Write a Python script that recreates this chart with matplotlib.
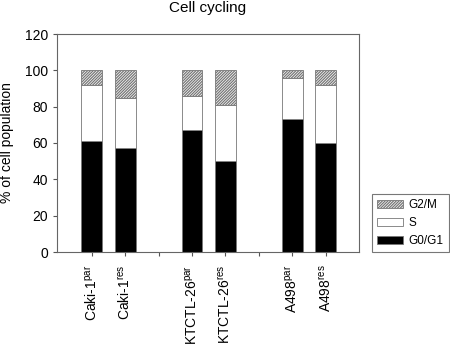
import matplotlib
matplotlib.use("Agg")
import matplotlib.pyplot as plt
import numpy as np

plt.rcParams['font.family'] = ['Liberation Sans', 'DejaVu Sans']
plt.rcParams['mathtext.fontset'] = 'custom'
plt.rcParams['mathtext.rm'] = 'Liberation Sans'
plt.rcParams['mathtext.it'] = 'Liberation Sans'
plt.rcParams['hatch.color'] = '#222222'
plt.rcParams['hatch.linewidth'] = 0.9

labels = ['Caki-1$^{\\mathrm{par}}$', 'Caki-1$^{\\mathrm{res}}$', '',
          'KTCTL-26$^{\\mathrm{par}}$', 'KTCTL-26$^{\\mathrm{res}}$', '',
          'A498$^{\\mathrm{par}}$', 'A498$^{\\mathrm{res}}$']
g0g1 = [61, 57, 0, 67, 50, 0, 73, 60]
s_phase = [31, 28, 0, 19, 31, 0, 23, 32]
g2m = [8, 15, 0, 14, 19, 0, 4, 8]
present = [True, True, False, True, True, False, True, True]

fig = plt.figure(figsize=(4.5, 3.44), dpi=100)
ax = fig.add_axes([57/450, 1-252/344, (359-57)/450, (252-34)/344])

x = np.arange(len(labels))
xs = x[present]
g0 = np.array(g0g1)[present]
s = np.array(s_phase)[present]
g2 = np.array(g2m)[present]
w = 0.62
ec = '#777777'
b1 = ax.bar(xs, g0, w, color='black', edgecolor=ec, linewidth=0.6, label='G0/G1')
b2 = ax.bar(xs, s, w, bottom=g0, color='white', edgecolor=ec, linewidth=0.6, label='S')
b3 = ax.bar(xs, g2, w, bottom=g0 + s, color='white', edgecolor=ec, linewidth=0.6,
            hatch='////////////', label='G2/M')

ax.set_xlim(-1.04, 8.0)
ax.set_ylim(0, 120)
ax.set_yticks(range(0, 121, 20))
ax.set_xticks(x)
ax.set_xticklabels(labels, rotation=90, fontsize=10)
ax.tick_params(axis='y', labelsize=10, direction='out', length=3, color='#555555')
ax.tick_params(axis='x', direction='out', length=3, color='#555555', pad=6)
for sp in ax.spines.values():
    sp.set_color('#666666')
    sp.set_linewidth(0.8)
ax.set_ylabel('% of cell population', fontsize=10)
ax.yaxis.set_label_coords(-0.142, 0.5)
fig.text(208/450, 1-8/344, 'Cell cycling', ha='center', va='center', fontsize=11)

leg = ax.legend(handles=[b3, b2, b1], labels=['G2/M', 'S', 'G0/G1'],
                loc='upper left', bbox_to_anchor=(372/450, 1-194/344),
                bbox_transform=fig.transFigure, fontsize=8.5, frameon=True,
                fancybox=False, edgecolor='#555555', handlelength=2.2,
                handleheight=0.6, borderpad=0.45, labelspacing=0.5, handletextpad=0.45,
                borderaxespad=0)
leg.get_frame().set_linewidth(0.8)

fig.savefig('out.png', dpi=100)
